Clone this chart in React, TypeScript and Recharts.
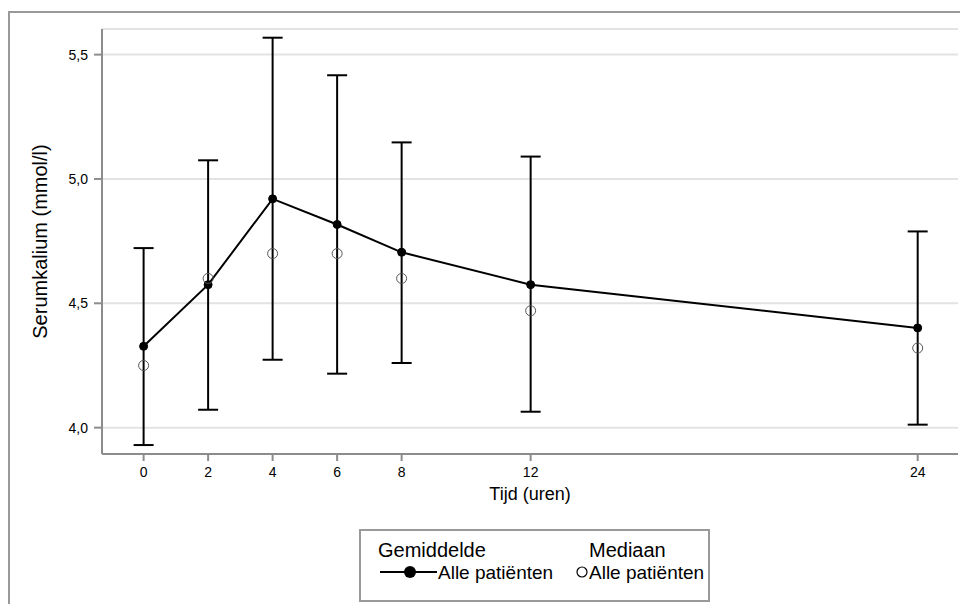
import React from 'react';
import { ComposedChart, Line, XAxis, YAxis, CartesianGrid, ErrorBar } from 'recharts';

const hours = [0, 2, 4, 6, 8, 12, 24];
const meanValues = [4.327, 4.575, 4.92, 4.817, 4.705, 4.575, 4.401];
const lowerValues = [3.93, 4.072, 4.273, 4.217, 4.26, 4.064, 4.012];
const upperValues = [4.722, 5.075, 5.568, 5.417, 5.147, 5.09, 4.789];
const medianValues = [4.25, 4.6, 4.7, 4.7, 4.6, 4.47, 4.32];
const xTicks = [0, 2, 4, 6, 8, 12, 24];
const yTicks = [4.0, 4.5, 5.0, 5.5];

const data = hours.map((h, i) => ({
  t: h,
  mean: meanValues[i],
  median: medianValues[i],
  err: [meanValues[i] - lowerValues[i], upperValues[i] - meanValues[i]],
}));

const FONT = '"Liberation Sans", Arial, sans-serif';
const AXIS_GRAY = '#8c8c8c';

const fmt = (v: number) => v.toFixed(1).replace('.', ',');

const YTitle = (props: any) => {
  const vb = props.viewBox || { x: 0, y: 0, width: 0, height: 0 };
  const cx = 47;
  const cy = vb.y + vb.height / 2;
  return (
    <text x={cx} y={cy} transform={`rotate(-90 ${cx} ${cy})`} textAnchor="middle" fontSize={20} fontFamily={FONT} fill="#000">
      Serumkalium (mmol/l)
    </text>
  );
};

const XTitle = (props: any) => {
  const vb = props.viewBox || { x: 0, y: 0, width: 0, height: 0 };
  const cx = vb.x + vb.width / 2;
  return (
    <text x={cx} y={500} textAnchor="middle" fontSize={18} fontFamily={FONT} fill="#000">
      Tijd (uren)
    </text>
  );
};

export default function App() {
  return (
    <div style={{ position: 'absolute', left: 0, top: 0, width: 960, height: 604, overflow: 'hidden', background: '#fff', fontFamily: FONT }}>
      <div style={{ position: 'absolute', left: 8, top: 11, width: 1000, height: 700, border: '2px solid #999' }} />
      <div style={{ position: 'absolute', left: 0, top: 0 }}>
        <ComposedChart width={960} height={520} data={data} margin={{ top: 29, right: 2, left: 0, bottom: 0 }}>
          <CartesianGrid horizontal vertical={false} stroke="#e3e3e3" strokeWidth={2} />
          <XAxis
            type="number"
            dataKey="t"
            domain={[-1.29, 25.25]}
            ticks={xTicks}
            interval={0}
            allowDataOverflow
            height={66}
            tickSize={7}
            tickMargin={6}
            axisLine={{ stroke: AXIS_GRAY, strokeWidth: 2 }}
            tickLine={{ stroke: AXIS_GRAY, strokeWidth: 2 }}
            tick={{ fontSize: 14, fill: '#000', fontFamily: FONT }}
            label={<XTitle />}
          />
          <XAxis xAxisId="top" orientation="top" type="number" dataKey="t" domain={[-1.29, 25.25]} allowDataOverflow height={0} tick={false} tickLine={false} axisLine={{ stroke: AXIS_GRAY, strokeWidth: 2 }} />
          <YAxis
            type="number"
            domain={[3.894, 5.603]}
            ticks={yTicks}
            interval={0}
            allowDataOverflow
            width={102}
            tickSize={8}
            tickMargin={6}
            tickFormatter={fmt}
            axisLine={{ stroke: AXIS_GRAY, strokeWidth: 2 }}
            tickLine={{ stroke: AXIS_GRAY, strokeWidth: 2 }}
            tick={{ fontSize: 14, fill: '#000', fontFamily: FONT }}
            label={<YTitle />}
          />
          <YAxis yAxisId="right" orientation="right" domain={[3.894, 5.603]} width={0} tick={false} tickLine={false} axisLine={{ stroke: AXIS_GRAY, strokeWidth: 2 }} />
          <Line
            dataKey="mean"
            stroke="#000"
            strokeWidth={2}
            dot={{ r: 4, fill: '#000', stroke: '#000', strokeWidth: 1 }}
            isAnimationActive={false}
          >
            <ErrorBar dataKey="err" direction="y" width={10} stroke="#000" strokeWidth={2} isAnimationActive={false} />
          </Line>
          <Line
            dataKey="median"
            stroke="none"
            dot={{ r: 5, fill: 'none', stroke: '#555', strokeWidth: 1 }}
            isAnimationActive={false}
          />
        </ComposedChart>
      </div>
      <svg style={{ position: 'absolute', left: 359, top: 529 }} width={352} height={74}>
        <rect x={1} y={1} width={349} height={71} fill="#fff" stroke="#999" strokeWidth={2} />
        <text x={19} y={28} fontSize={20} fontFamily={FONT} fill="#000">Gemiddelde</text>
        <text x={230} y={28} fontSize={20} fontFamily={FONT} fill="#000">Mediaan</text>
        <line x1={21} y1={43} x2={78} y2={43} stroke="#000" strokeWidth={2} />
        <circle cx={51} cy={43} r={6} fill="#000" />
        <text x={79} y={50} fontSize={19} fontFamily={FONT} fill="#000">Alle patiënten</text>
        <circle cx={223} cy={43} r={5} fill="none" stroke="#000" strokeWidth={1.2} />
        <text x={230} y={50} fontSize={19} fontFamily={FONT} fill="#000">Alle patiënten</text>
      </svg>
    </div>
  );
}
